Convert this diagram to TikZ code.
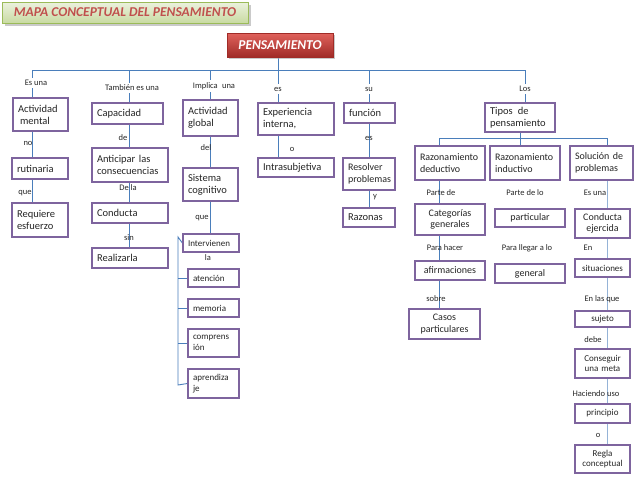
\documentclass[tikz,border=0pt]{standalone}
\usepackage{fontspec}
\setmainfont{Carlito}
\usetikzlibrary{backgrounds,shadows}
\definecolor{boxline}{HTML}{7E649E}
\definecolor{linkblue}{HTML}{4A7EBB}
\definecolor{linklight}{HTML}{95B3D7}
\definecolor{titlered}{HTML}{C0504D}
\definecolor{titlegreen}{HTML}{9BBB59}
\definecolor{greentop}{HTML}{EBF1DE}
\definecolor{greenbot}{HTML}{C9DBA2}
\definecolor{redtop}{HTML}{E0625C}
\definecolor{redbot}{HTML}{A02B27}

\begin{document}
\begin{tikzpicture}[x=1pt, y=-1pt,
  concept/.style = {draw=boxline, line width=1.3pt, fill=white, inner xsep=5pt, inner ysep=1pt,
                    align=left, text=black!85, font=\fontsize{10.5}{12}\selectfont},
  mid/.style = {font=\fontsize{10}{11.5}\selectfont},
  small/.style = {font=\fontsize{9}{10.5}\selectfont},
  rel/.style = {inner sep=1pt, text=black!85, font=\fontsize{8.5}{9.5}\selectfont},
  toprel/.style = {rel, fill=white, inner sep=2.5pt},
  link/.style = {draw=linkblue, line width=0.9pt},
  titlebox/.style = {draw=titlegreen, line width=1pt, top color=greentop, bottom color=greenbot,
                     minimum width=246pt, minimum height=21pt, text=titlered,
                     font=\fontsize{13.5}{14}\selectfont\bfseries\itshape,
                     drop shadow={shadow xshift=3pt, shadow yshift=-3pt, fill=black!35, opacity=.6}},
  mainbox/.style = {draw=redbot, top color=redtop, bottom color=redbot, text=white,
                    minimum width=106pt, minimum height=24pt,
                    font=\fontsize{13.5}{14}\selectfont\bfseries\itshape,
                    drop shadow={shadow xshift=2pt, shadow yshift=-2pt, fill=black!35, opacity=.6}}
  ]
  \useasboundingbox (0,0) rectangle (638,479);

  \node[titlebox] (title) at (125,12.5) {MAPA CONCEPTUAL DEL PENSAMIENTO};
  \node[mainbox] (pens) at (280,45) {PENSAMIENTO};

  \coordinate (b1) at (32,70);
  \coordinate (b2) at (129,70);
  \coordinate (b3) at (210,70);
  \coordinate (b4) at (278,70);
  \coordinate (b5) at (369,70);
  \coordinate (b6) at (525,70);

  \node[toprel] (l1) at (36,83) {Es una};
  \node[toprel] (l2) at (132,88) {También es una};
  \node[toprel] (l3) at (214,86) {Implica\enspace una};
  \node[toprel] (l4) at (278,89) {es};
  \node[toprel] (l5) at (369,89) {su};
  \node[toprel] (l6) at (525,89) {Los};

  \node[concept, text width=45pt, minimum height=33pt] (actm) at (40.5,114.5) {Actividad\\\hspace{2pt}mental};
  \node[concept, text width=61pt, minimum height=21pt] (capac) at (127.5,113.5) {Capacidad};
  \node[concept, text width=45pt, minimum height=36pt] (actg) at (210.5,118) {Actividad\\global};
  \node[concept, text width=66pt, minimum height=32pt] (exper) at (296,119) {Experiencia\\interna,};
  \node[concept, text width=41pt, minimum height=20pt] (funcion) at (369.5,113) {función};
  \node[concept, text width=60pt, minimum height=29pt] (tipos) at (520,117.5) {Tipos\enspace de\\pensamiento};

  \node[rel] (l7) at (28,143) {no};
  \node[concept, text width=46pt, minimum height=21pt] (rutin) at (40,168.5) {rutinaria};
  \node[rel] (l8) at (25,193) {que};
  \node[concept, text width=46pt, minimum height=34pt] (reqesf) at (40,220) {Requiere\\esfuerzo};

  \node[rel] (l9) at (123,138) {de};
  \node[concept, text width=66pt, minimum height=34pt] (antic) at (130,165) {Anticipar las\\consecuencias};
  \node[rel] (l10) at (128,188) {De la};
  \node[concept, text width=66pt, minimum height=20pt] (conduc) at (130,213) {Conducta};
  \node[rel] (l11) at (129,238) {sin};
  \node[concept, text width=66pt, minimum height=20pt] (realiz) at (130,258) {Realizarla};

  \node[rel] (l12) at (206,148) {del};
  \node[concept, text width=45pt, minimum height=33pt] (sistc) at (210.5,184.5) {Sistema\\cognitivo};
  \node[rel] (l13) at (202,218) {que};
  \node[concept, small, text width=46pt, minimum height=18pt] (interv) at (211,243) {Intervienen};
  \node[rel] (l14) at (208,258) {la};
  \node[concept, small, text width=41pt, minimum height=18pt] (aten) at (213.5,278) {atención};
  \node[concept, small, text width=41pt, minimum height=18pt] (memo) at (213.5,308) {memoria};
  \node[concept, small, text width=41pt, minimum height=28pt] (compr) at (213.5,343) {comprens\\ión};
  \node[concept, small, text width=41pt, minimum height=29pt] (aprend) at (213.5,383.5) {aprendiza\\je};
  \coordinate (brT) at (178,237);
  \coordinate (brB) at (178,385);

  \node[rel] (l15) at (292,149) {o};
  \node[concept, text width=66pt, minimum height=19pt] (intras) at (296,167.5) {Intrasubjetiva};

  \node[rel] (l16) at (369,138) {es};
  \node[concept, mid, text width=42pt, minimum height=32pt] (resolv) at (369,174) {Resolver\\problemas};
  \node[rel] (l17) at (375,197) {y};
  \node[concept, text width=42pt, minimum height=19pt] (razonas) at (369,217.5) {Razonas};

  \coordinate (sL) at (439,138);
  \coordinate (sM) at (520,138);
  \coordinate (sR) at (607,138);

  \node[concept, mid, text width=60pt, minimum height=34pt] (deduc) at (450,163) {Razonamiento\\deductivo};
  \node[concept, mid, text width=60pt, minimum height=34pt] (induc) at (525,163) {Razonamiento\\inductivo};
  \node[concept, mid, text width=53pt, minimum height=34pt] (soluc) at (601.5,163) {Solución de\\problemas};

  \node[rel] (l18) at (441,193) {Parte de};
  \node[concept, mid, align=center, text width=60pt, minimum height=31pt] (categ) at (450,219.5) {Categorías\\generales};
  \node[rel] (l19) at (445,248) {Para hacer};
  \node[concept, mid, align=center, text width=60pt, minimum height=19pt] (afirm) at (450,270.5) {afirmaciones};
  \node[rel] (l20) at (436,299) {sobre};
  \node[concept, mid, align=center, text width=61pt, minimum height=30pt] (casos) at (444.5,324) {Casos\\particulares};

  \node[rel] (l21) at (525,193) {Parte de lo};
  \node[concept, mid, align=center, text width=60pt, minimum height=18pt] (partic) at (530,218) {particular};
  \node[rel] (l22) at (527,248) {Para llegar a lo};
  \node[concept, mid, align=center, text width=60pt, minimum height=19pt] (gener) at (530,273.5) {general};

  \node[rel] (l23) at (595,193) {Es una};
  \node[concept, mid, align=center, text width=45pt, minimum height=29pt] (condej) at (602.5,223.5) {Conducta\\ejercida};
  \node[rel] (l24) at (588,248) {En};
  \node[concept, small, align=center, text width=45pt, minimum height=18pt] (situac) at (602.5,268) {situaciones};
  \node[rel] (l25) at (602,299) {En las que};
  \node[concept, small, align=center, text width=45pt, minimum height=16pt] (sujeto) at (602.5,319) {sujeto};
  \node[rel] (l26) at (593,340) {debe};
  \node[concept, small, align=center, text width=45pt, minimum height=29pt] (consm) at (602.5,363.5) {Conseguir\\una meta};
  \node[rel] (l27) at (596,394) {Haciendo uso};
  \node[concept, small, align=center, text width=45pt, minimum height=19pt] (princ) at (602.5,413.5) {principio};
  \node[rel] (l28) at (598,435) {o};
  \node[concept, small, align=center, text width=45pt, minimum height=28pt] (regla) at (602.5,459) {Regla\\conceptual};

  \begin{scope}[on background layer]
    \draw[link] (pens.south -| b4) -- (b4);
    \draw[link] (b1) -- (b6);
    \draw[link] (b1) -- (reqesf.north -| b1);
    \draw[link] (b2) -- (realiz.north -| b2);
    \draw[link] (b3) -- (interv.north -| b3);
    \draw[link] (b4) -- (intras.north -| b4);
    \draw[link] (b5) -- (razonas.north -| b5);
    \draw[link] (b6) -- (tipos.north -| b6);
    \draw[link] (interv.west) -- (brT) -- (brB) -- (aprend.west);
    \draw[link] (aten.west -| brT) -- (aten.west);
    \draw[link] (memo.west -| brT) -- (memo.west);
    \draw[link] (compr.west -| brT) -- (compr.west);
    \draw[link] (tipos.south -| sM) -- (sM);
    \draw[link] (sL) -- (sR);
    \draw[link] (sL) -- (sL |- casos.north);
    \draw[link] (sM) -- (induc.north -| sM);
    \draw[link] (sR) -- (soluc.north -| sR);
    \draw[link, draw=linklight] (soluc.south -| sR) -- (regla.north -| sR);
  \end{scope}
\end{tikzpicture}
\end{document}
